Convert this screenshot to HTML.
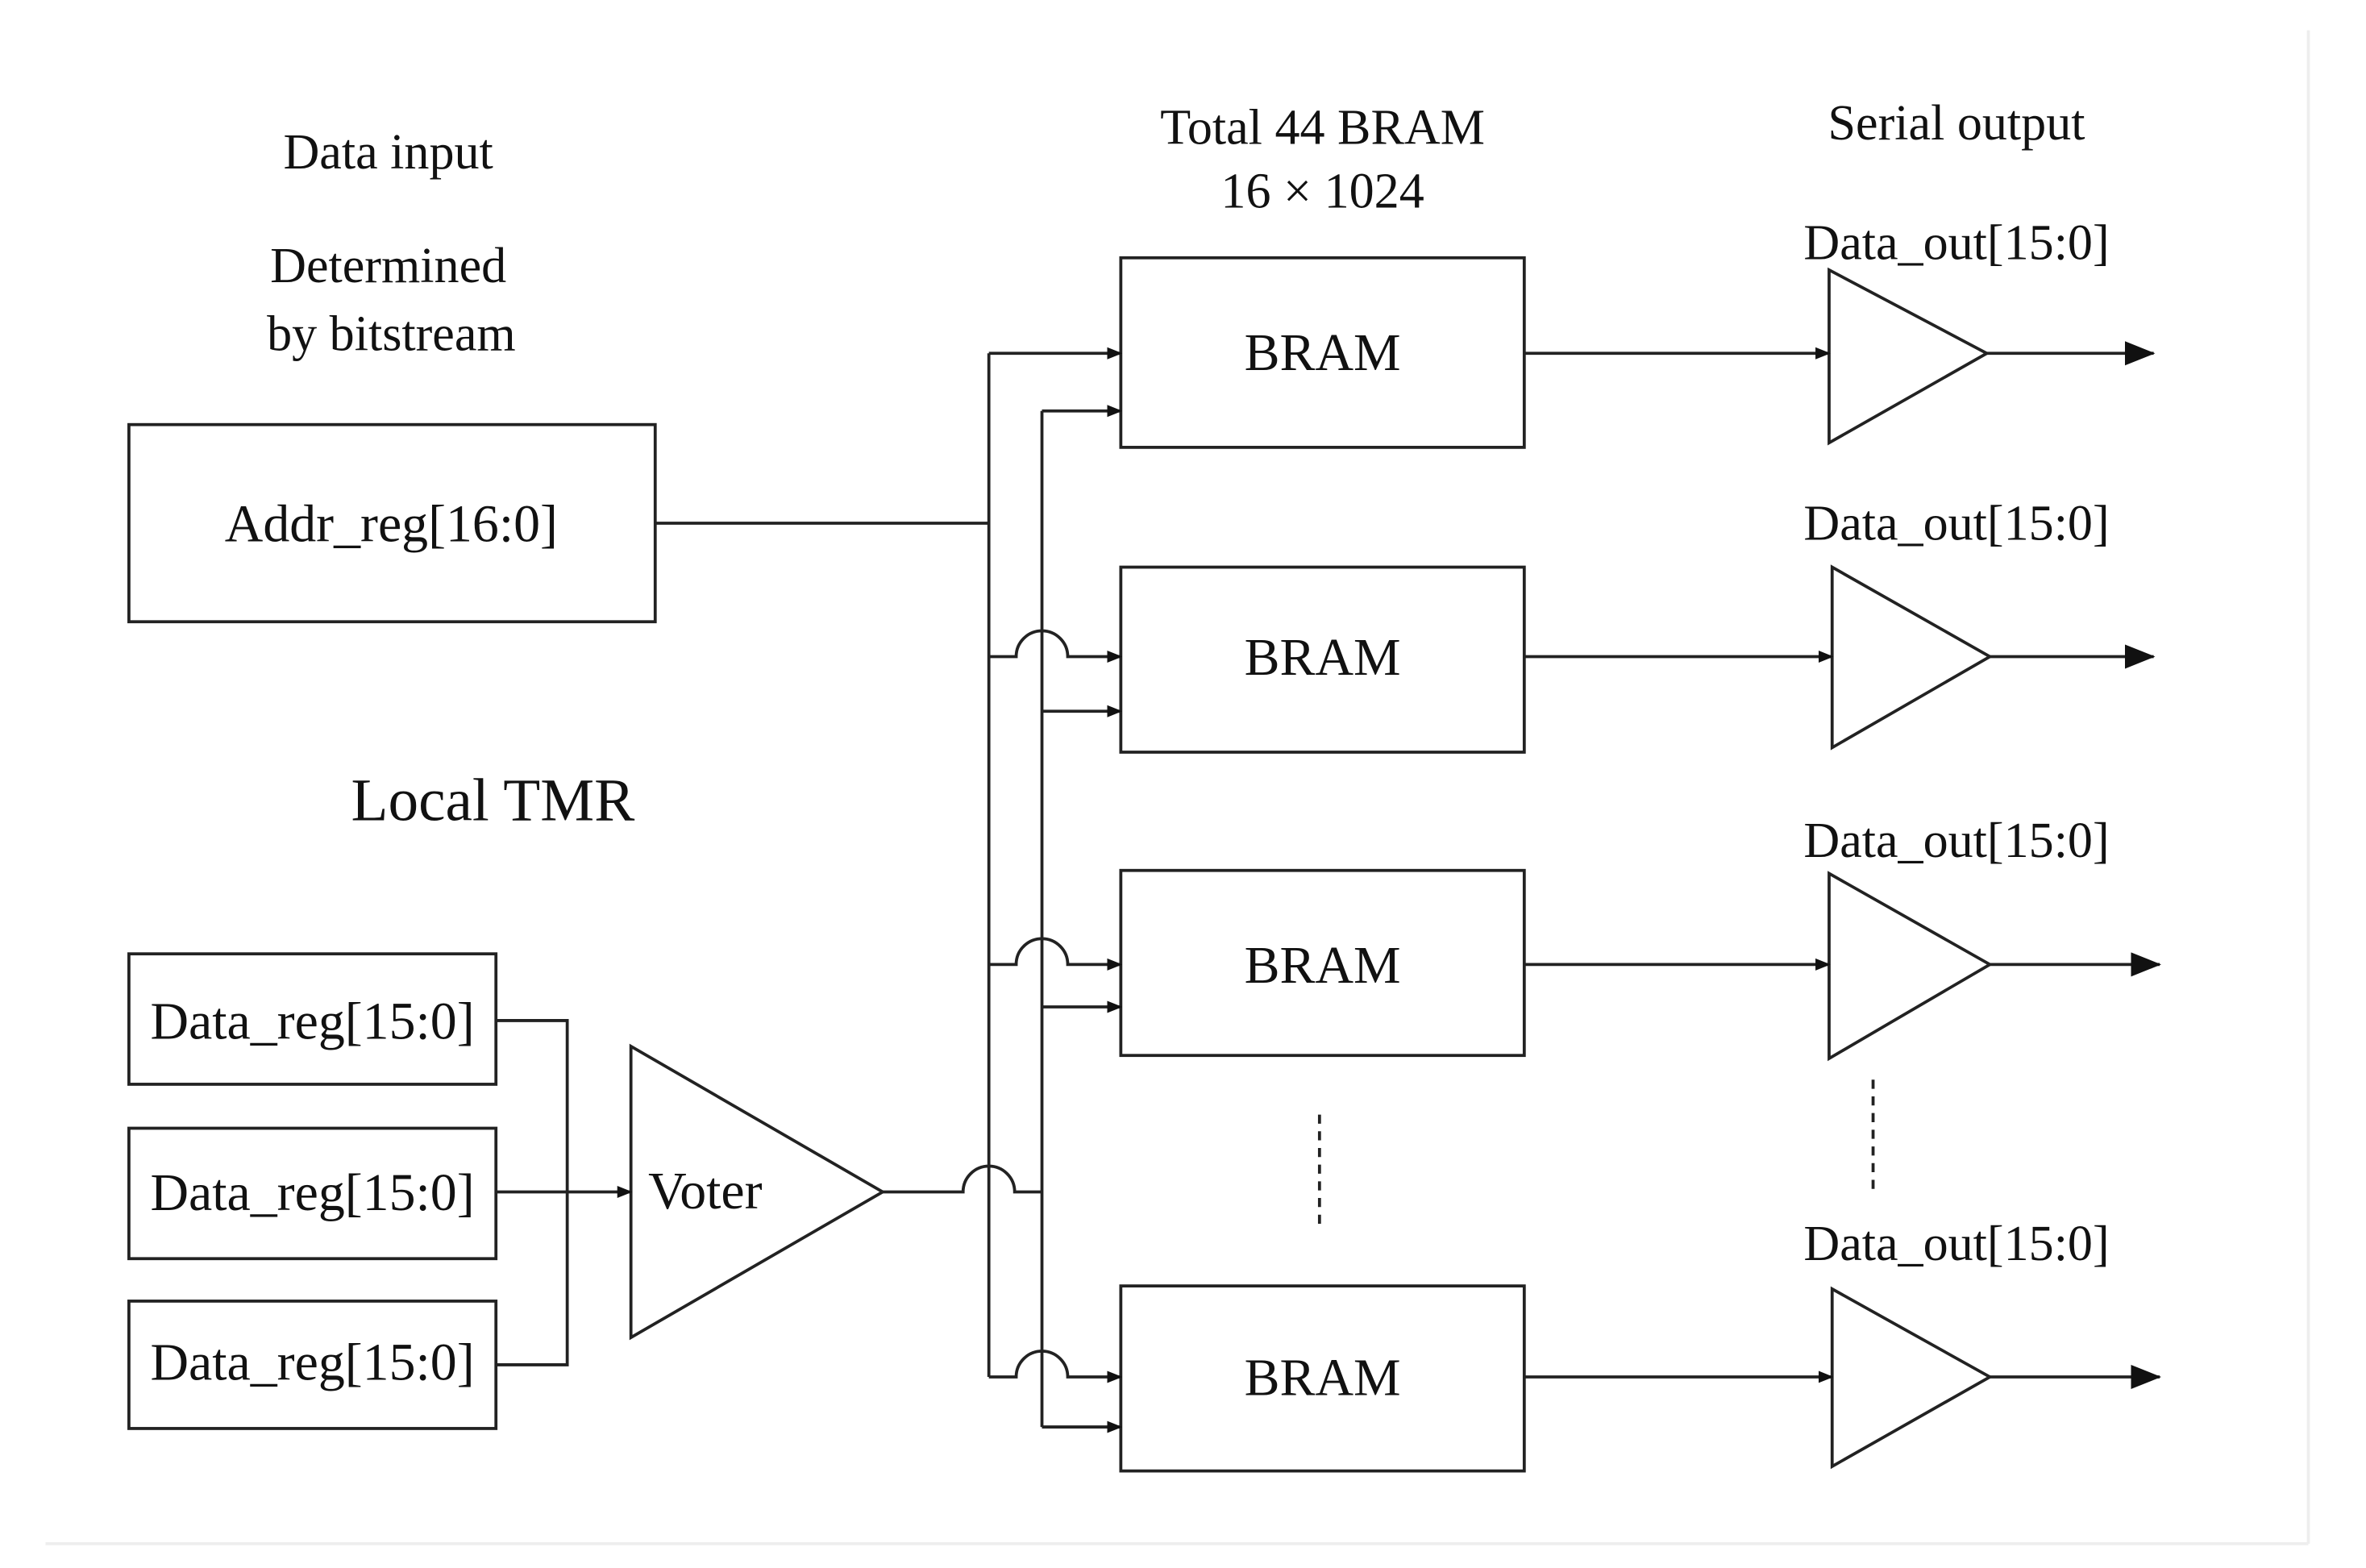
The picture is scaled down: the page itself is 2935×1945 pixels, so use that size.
<!DOCTYPE html>
<html><head><style>html,body{margin:0;padding:0;background:#fff}svg{display:block}</style></head>
<body>
<svg width="2935" height="1945" viewBox="0 0 1560 1034" preserveAspectRatio="none" xmlns="http://www.w3.org/2000/svg">
<defs>
<marker id="a" markerWidth="10" markerHeight="10" refX="9" refY="5" orient="auto" markerUnits="userSpaceOnUse"><path d="M0,1 L10,5 L0,9z" fill="#111"/></marker>
<marker id="b" markerWidth="20" markerHeight="16" refX="19" refY="8" orient="auto" markerUnits="userSpaceOnUse"><path d="M0,0 L20,8 L0,16z" fill="#111"/></marker>
</defs>
<rect width="1560" height="1034" fill="#fff"/>
<line x1="1522" y1="20" x2="1522" y2="1018" stroke="#eee" stroke-width="2"/>
<line x1="30" y1="1018" x2="1522" y2="1018" stroke="#eee" stroke-width="2"/>
<g fill="none" stroke="#222" stroke-width="2">
<rect x="85" y="280" width="347" height="130"/>
<rect x="85" y="629" width="242" height="86"/>
<rect x="85" y="744" width="242" height="86"/>
<rect x="85" y="858" width="242" height="84"/>
<rect x="739" y="170" width="266" height="125"/>
<rect x="739" y="374" width="266" height="122"/>
<rect x="739" y="574" width="266" height="122"/>
<rect x="739" y="848" width="266" height="122"/>
<path d="M416,690 L416,882 L582,786Z"/>
<path d="M1206,178 L1206,292 L1310,233Z"/>
<path d="M1208,374 L1208,493 L1312,433Z"/>
<path d="M1206,576 L1206,698 L1312,636Z"/>
<path d="M1208,850 L1208,967 L1312,908Z"/>
<path d="M432,345 H652"/>
<path d="M652,233 V908"/>
<path d="M687,271 V941"/>
<path d="M652,233 H739" marker-end="url(#a)"/>
<path d="M687,271 H739" marker-end="url(#a)"/>
<path d="M652,433 H670 A17,17 0 0 1 704,433 H739" marker-end="url(#a)"/>
<path d="M687,469 H739" marker-end="url(#a)"/>
<path d="M652,636 H670 A17,17 0 0 1 704,636 H739" marker-end="url(#a)"/>
<path d="M687,664 H739" marker-end="url(#a)"/>
<path d="M652,908 H670 A17,17 0 0 1 704,908 H739" marker-end="url(#a)"/>
<path d="M687,941 H739" marker-end="url(#a)"/>
<path d="M582,786 H635 A17,17 0 0 1 669,786 H687"/>
<path d="M327,673 H374 V900 H327"/>
<path d="M327,786 H416" marker-end="url(#a)"/>
<path d="M1005,233 H1206" marker-end="url(#a)"/>
<path d="M1005,433 H1208" marker-end="url(#a)"/>
<path d="M1005,636 H1206" marker-end="url(#a)"/>
<path d="M1005,908 H1208" marker-end="url(#a)"/>
<path d="M1310,233 H1420" marker-end="url(#b)"/>
<path d="M1312,433 H1420" marker-end="url(#b)"/>
<path d="M1312,636 H1424" marker-end="url(#b)"/>
<path d="M1312,908 H1424" marker-end="url(#b)"/>
<path d="M870,735 V810 M1235,712 V785" stroke-dasharray="6,5"/>
</g>
<g font-family="Liberation Serif, serif" fill="#111" text-anchor="middle" font-size="33">
<text x="256" y="111">Data input</text>
<text x="256" y="186">Determined</text>
<text x="258" y="231">by bitstream</text>
<text x="325" y="541" font-size="40">Local TMR</text>
<text x="872" y="95">Total 44 BRAM</text>
<text x="872" y="137">16 × 1024</text>
<text x="1290" y="92">Serial output</text>
<text x="1290" y="171">Data_out[15:0]</text>
<text x="1290" y="356">Data_out[15:0]</text>
<text x="1290" y="565">Data_out[15:0]</text>
<text x="1290" y="831">Data_out[15:0]</text>
<text x="258" y="357" font-size="35">Addr_reg[16:0]</text>
<text x="206" y="685" font-size="35">Data_reg[15:0]</text>
<text x="206" y="798" font-size="35">Data_reg[15:0]</text>
<text x="206" y="910" font-size="35">Data_reg[15:0]</text>
<text x="465" y="797" font-size="35">Voter</text>
<text x="872" y="244" font-size="35">BRAM</text>
<text x="872" y="445" font-size="35">BRAM</text>
<text x="872" y="648" font-size="35">BRAM</text>
<text x="872" y="920" font-size="35">BRAM</text>
</g>
</svg>
</body></html>
